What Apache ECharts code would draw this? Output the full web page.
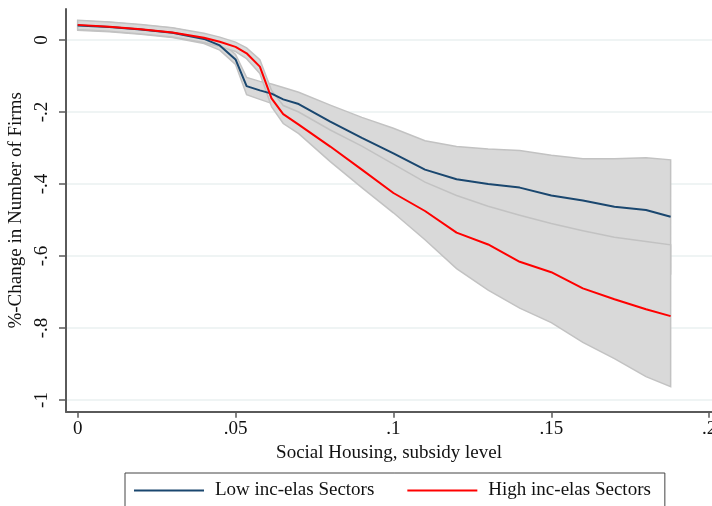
<!DOCTYPE html>
<html>
<head>
<meta charset="utf-8">
<script src="https://cdn.jsdelivr.net/npm/echarts@6/dist/echarts.min.js"></script>
<style>
  html, body { margin: 0; padding: 0; background: #fff; }
  #chart { width: 712px; height: 506px; }
</style>
</head>
<body>
<div id="chart"></div>
<script>
// subsidy level (x)
const xVals = [0, 0.01, 0.02, 0.03, 0.04, 0.045, 0.05, 0.0535, 0.0577, 0.0614, 0.0651, 0.07,
  0.08, 0.09, 0.1, 0.11, 0.12, 0.13, 0.14, 0.15, 0.16, 0.17, 0.18, 0.1878];

// Low inc-elas Sectors and its band
const lowInc = [0.040, 0.036, 0.029, 0.020, 0.003, -0.015, -0.054, -0.128, -0.140, -0.149, -0.165, -0.178,
  -0.227, -0.272, -0.315, -0.360, -0.387, -0.400, -0.410, -0.432, -0.446, -0.463, -0.472, -0.491];
const lowUpper = [0.053, 0.049, 0.042, 0.033, 0.016, -0.002, -0.040, -0.104, -0.115, -0.122, -0.132, -0.145,
  -0.181, -0.215, -0.245, -0.280, -0.296, -0.303, -0.307, -0.320, -0.330, -0.330, -0.327, -0.333];
const lowLower = [0.027, 0.023, 0.016, 0.007, -0.010, -0.028, -0.068, -0.152, -0.165, -0.176, -0.198, -0.211,
  -0.273, -0.329, -0.385, -0.440, -0.474, -0.497, -0.513, -0.544, -0.562, -0.596, -0.617, -0.649];

// High inc-elas Sectors and its band
const highInc = [0.042, 0.037, 0.030, 0.021, 0.006, -0.005, -0.019, -0.037, -0.074, -0.162, -0.206, -0.235,
  -0.296, -0.360, -0.425, -0.475, -0.535, -0.568, -0.616, -0.645, -0.690, -0.720, -0.748, -0.767];
const highUpper = [0.055, 0.050, 0.043, 0.034, 0.019, 0.008, -0.006, -0.022, -0.055, -0.140, -0.182, -0.200,
  -0.250, -0.295, -0.345, -0.395, -0.432, -0.462, -0.487, -0.510, -0.530, -0.548, -0.560, -0.569];
const highLower = [0.029, 0.024, 0.017, 0.008, -0.007, -0.018, -0.032, -0.052, -0.093, -0.185, -0.232, -0.260,
  -0.338, -0.410, -0.480, -0.555, -0.635, -0.695, -0.745, -0.785, -0.840, -0.885, -0.935, -0.963];

// ticks
const xTicks = [0, 0.05, 0.1, 0.15, 0.2];
const xTickLabels = ['0', '.05', '.1', '.15', '.2'];
const yTicks = [0, -0.2, -0.4, -0.6, -0.8, -1];
const yTickLabels = ['0', '-.2', '-.4', '-.6', '-.8', '-1'];

const FONT = "'Liberation Serif', 'DejaVu Serif', serif";

function pickLabel(ticks, labels, v) {
  let best = 0;
  ticks.forEach((t, i) => { if (Math.abs(t - v) < Math.abs(ticks[best] - v)) best = i; });
  return labels[best];
}

function pairs(ys) {
  return xVals.map((x, i) => [x, ys[i]]);
}

// shaded band: upper edge forward, lower edge back
function bandSeries(upper, lower) {
  return {
    type: 'custom',
    silent: true,
    data: [[0, 0]],
    renderItem: (params, api) => {
      const pts = [];
      xVals.forEach((x, i) => pts.push(api.coord([x, upper[i]])));
      for (let i = xVals.length - 1; i >= 0; i--) pts.push(api.coord([xVals[i], lower[i]]));
      return {
        type: 'polygon',
        shape: { points: pts },
        style: { fill: '#d9d9d9', stroke: '#c2c2c2', lineWidth: 1.5 }
      };
    }
  };
}

const chart = echarts.init(document.getElementById('chart'));
chart.setOption({
  animation: false,
  backgroundColor: '#fff',
  grid: { left: 66, top: 9, width: 646, height: 402.7, outerBoundsMode: 'none', containLabel: false },
  xAxis: {
    type: 'value',
    min: -0.0037,
    max: 0.2009,
    name: 'Social Housing, subsidy level',
    nameLocation: 'middle',
    nameGap: 29,
    nameTextStyle: { fontFamily: FONT, fontSize: 19, color: '#111' },
    axisLine: { show: true, onZero: false, lineStyle: { color: '#5a5a5a', width: 2 } },
    axisTick: { show: true, customValues: xTicks, length: 6, lineStyle: { color: '#5a5a5a', width: 1.5 } },
    axisLabel: {
      customValues: xTicks,
      margin: 8,
      hideOverlap: false,
      fontFamily: FONT, fontSize: 19, color: '#111',
      formatter: v => pickLabel(xTicks, xTickLabels, v)
    },
    splitLine: { show: false }
  },
  yAxis: {
    type: 'value',
    min: -1.0325,
    max: 0.0861,
    name: '%-Change in Number of Firms',
    nameLocation: 'middle',
    nameRotate: 90,
    nameGap: 25,
    nameTextStyle: { fontFamily: FONT, fontSize: 19, color: '#111' },
    axisLine: { show: true, onZero: false, lineStyle: { color: '#5a5a5a', width: 2 } },
    axisTick: { show: true, customValues: yTicks, length: 7, lineStyle: { color: '#5a5a5a', width: 1.5 } },
    axisLabel: {
      customValues: yTicks,
      rotate: 90,
      margin: 14,
      fontFamily: FONT, fontSize: 19, color: '#111',
      formatter: v => pickLabel(yTicks, yTickLabels, v)
    },
    splitLine: { show: true, lineStyle: { color: '#eaf0f0', width: 1.5 } }
  },
  legend: {
    left: 125,
    top: 473,
    padding: [8, 14, 10, 9],
    borderColor: '#444',
    borderWidth: 1,
    itemGap: 33,
    itemWidth: 70,
    itemHeight: 2,
    icon: 'rect',
    selectedMode: false,
    textStyle: { fontFamily: FONT, fontSize: 19, color: '#111', padding: [0, 0, 0, 6] },
    data: ['Low inc-elas Sectors', 'High inc-elas Sectors']
  },
  series: [
    bandSeries(lowUpper, lowLower),
    bandSeries(highUpper, highLower),
    {
      name: 'Low inc-elas Sectors',
      type: 'line',
      data: pairs(lowInc),
      showSymbol: false,
      color: '#1a476f',
      lineStyle: { color: '#1a476f', width: 2 }
    },
    {
      name: 'High inc-elas Sectors',
      type: 'line',
      data: pairs(highInc),
      showSymbol: false,
      color: '#ff0000',
      lineStyle: { color: '#ff0000', width: 2 }
    }
  ]
});
</script>
</body>
</html>
